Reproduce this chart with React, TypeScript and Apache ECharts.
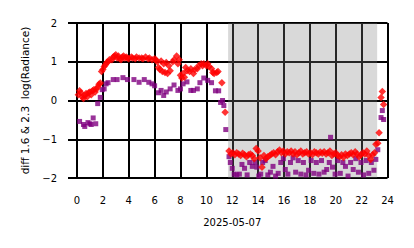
import React, { useEffect, useRef } from "react";
import * as echarts from "echarts";

const xTicks = [0, 2, 4, 6, 8, 10, 12, 14, 16, 18, 20, 22, 24];
const yTicks = [-2, -1, 0, 1, 2];
const xLabel = "2025-05-07";
const yLabel = "diff 1.6 & 2.3  log(Radiance)";
const shadeStart = 11.68;
const shadeEnd = 23.2;

// red diamonds: [hour, value]
const redSeries: [number, number][] = [
  [0.1, 0.15], [0.2, 0.25], [0.3, 0.2], [0.4, 0.1], [0.5, 0.05], [0.6, 0.12], [0.7, 0.18], [0.8, 0.1],
  [0.9, 0.2], [1.0, 0.22], [1.1, 0.15], [1.2, 0.25], [1.3, 0.28], [1.4, 0.22], [1.5, 0.3], [1.6, 0.35],
  [1.7, 0.42], [1.8, 0.45], [1.9, 0.75], [2.0, 0.8], [2.1, 0.88], [2.2, 0.92], [2.3, 0.98], [2.4, 1.0],
  [2.5, 1.05], [2.7, 1.05], [2.8, 1.12], [2.9, 1.15], [3.0, 1.18], [3.1, 1.1], [3.2, 1.15], [3.3, 1.08],
  [3.4, 1.05], [3.5, 1.12], [3.6, 1.15], [3.7, 1.1], [3.8, 1.12], [3.9, 1.1], [4.0, 1.08], [4.2, 1.12],
  [4.3, 1.1], [4.5, 1.08], [4.6, 1.12], [4.8, 1.1], [5.0, 1.1], [5.1, 1.08], [5.3, 1.12], [5.5, 1.08],
  [5.6, 1.1], [5.8, 1.05], [6.0, 1.08], [6.1, 1.05], [6.2, 1.0], [6.3, 0.85], [6.4, 0.8], [6.5, 1.02],
  [6.6, 0.75], [6.7, 0.95], [6.8, 0.72], [6.9, 0.98], [7.0, 0.7], [7.1, 0.9], [7.2, 0.77], [7.4, 1.0],
  [7.5, 1.05], [7.7, 1.15], [7.8, 0.95], [7.9, 1.05], [8.0, 0.65], [8.1, 0.58], [8.2, 0.7], [8.3, 0.6],
  [8.4, 0.85], [8.5, 0.77], [8.7, 0.75], [8.8, 0.82], [9.0, 0.7], [9.1, 0.8], [9.3, 0.82], [9.4, 0.9],
  [9.6, 0.95], [9.7, 0.9], [9.8, 0.95], [10.0, 0.9], [10.1, 0.95], [10.2, 0.88], [10.4, 0.82],
  [10.5, 0.72], [10.6, 0.7], [10.8, 0.72], [10.9, 0.75], [11.2, 0.46], [11.45, -0.3],
  [11.75, -1.3], [11.9, -1.38], [12.05, -1.35], [12.2, -1.4], [12.35, -1.35], [12.5, -1.38], [12.65, -1.42],
  [12.8, -1.36], [12.95, -1.4], [13.1, -1.45], [13.25, -1.4], [13.4, -1.38], [13.55, -1.42], [13.7, -1.5],
  [13.85, -1.24], [14.0, -1.3], [14.15, -1.48], [14.3, -1.72], [14.45, -1.42], [14.6, -1.5], [14.75, -1.45],
  [14.9, -1.42], [15.05, -1.38], [15.2, -1.35], [15.35, -1.4], [15.5, -1.32], [15.65, -1.28], [15.8, -1.35],
  [15.95, -1.3], [16.1, -1.38], [16.25, -1.32], [16.4, -1.35], [16.55, -1.3], [16.7, -1.38], [16.85, -1.32],
  [17.0, -1.4], [17.15, -1.35], [17.3, -1.3], [17.45, -1.38], [17.6, -1.35], [17.75, -1.32], [17.9, -1.38],
  [18.05, -1.35], [18.2, -1.4], [18.35, -1.32], [18.5, -1.35], [18.65, -1.38], [18.8, -1.33], [18.95, -1.36],
  [19.1, -1.32], [19.25, -1.38], [19.4, -1.35], [19.55, -1.3], [19.7, -1.42], [19.85, -1.38], [20.0, -1.35],
  [20.15, -1.42], [20.3, -1.45], [20.45, -1.4], [20.6, -1.47], [20.75, -1.38], [20.9, -1.42], [21.05, -1.38],
  [21.2, -1.35], [21.35, -1.4], [21.5, -1.32], [21.65, -1.38], [21.8, -1.45], [21.95, -1.4], [22.1, -1.35],
  [22.25, -1.38], [22.4, -1.3], [22.55, -1.42], [22.7, -1.52], [22.85, -1.4], [23.0, -1.35], [23.1, -1.13],
  [23.25, -1.1], [23.35, -0.83], [23.5, 0.08], [23.6, 0.23], [23.7, -0.1],
];

// purple squares: [hour, value]
const purpleSeries: [number, number][] = [
  [0.2, -0.54], [0.5, -0.62], [0.6, -0.67], [0.85, -0.57], [1.0, -0.6], [1.1, -0.62], [1.25, -0.45],
  [1.45, -0.6], [1.6, -0.08], [1.8, 0.08], [1.95, 0.28], [2.1, 0.3], [2.25, 0.43], [2.4, 0.46],
  [2.8, 0.54], [3.1, 0.54], [3.55, 0.59], [3.9, 0.54], [4.4, 0.54], [4.8, 0.47], [5.2, 0.54], [5.55, 0.47],
  [5.8, 0.43], [6.0, 0.38], [6.3, 0.2], [6.5, 0.26], [6.7, 0.13], [6.9, 0.22], [7.2, 0.3], [7.5, 0.4],
  [7.8, 0.26], [8.0, 0.3], [8.2, 0.43], [8.5, 0.48], [8.8, 0.26], [9.0, 0.26], [9.3, 0.3], [9.5, 0.46],
  [9.8, 0.58], [10.1, 0.52], [10.4, 0.46], [10.7, 0.25], [10.95, 0.25], [11.1, -0.05], [11.25, 0.0],
  [11.35, -0.13], [11.5, -0.75],
  [11.75, -1.45], [11.85, -1.6], [12.0, -1.75], [12.15, -1.9], [12.35, -1.92], [12.55, -1.9], [12.75, -1.65],
  [12.95, -1.75], [13.15, -1.92], [13.35, -1.6], [13.55, -1.7], [13.75, -1.6], [13.9, -1.72], [14.05, -1.95],
  [14.2, -1.9], [14.35, -1.6], [14.55, -1.55], [14.75, -1.92], [14.95, -1.85], [15.15, -1.7], [15.35, -1.95],
  [15.55, -1.88], [15.75, -1.6], [15.95, -1.5], [16.1, -1.78], [16.3, -1.9], [16.5, -1.6], [16.7, -1.48],
  [16.9, -1.85], [17.1, -1.55], [17.3, -1.9], [17.5, -1.6], [17.7, -1.92], [17.9, -1.8], [18.1, -1.55],
  [18.3, -1.88], [18.5, -1.6], [18.7, -1.9], [18.9, -1.55], [19.1, -1.85], [19.3, -1.78], [19.5, -1.6],
  [19.6, -0.95], [19.75, -1.72], [19.95, -1.9], [20.15, -1.55], [20.35, -1.88], [20.55, -1.6], [20.75, -1.7],
  [20.95, -1.95], [21.15, -1.6], [21.35, -1.78], [21.55, -1.5], [21.75, -1.85], [21.95, -1.6], [22.15, -1.92],
  [22.35, -1.55], [22.55, -1.88], [22.75, -1.6], [22.95, -1.8], [23.1, -1.52], [23.25, -1.27], [23.5, -0.44],
  [23.6, -0.26], [23.7, -0.49],
];

const FONT = "DejaVu Sans";

export default function App() {
  const ref = useRef<HTMLDivElement>(null);
  useEffect(() => {
    if (!ref.current) return;
    const chart = echarts.init(ref.current, null, { renderer: "svg" });
    chart.setOption({
      animation: false,
      backgroundColor: "#ffffff",
      grid: { left: 77, right: 26.5, top: 23, bottom: 70, containLabel: false },
      xAxis: {
        type: "value",
        min: xTicks[0],
        max: xTicks[xTicks.length - 1],
        interval: 2,
        name: xLabel,
        nameLocation: "middle",
        nameGap: 39,
        nameTextStyle: { fontFamily: FONT, fontSize: 10, color: "#000" },
        axisLine: { show: false },
        axisTick: { show: true, length: 8, lineStyle: { color: "#000", width: 2 } },
        axisLabel: { margin: 17, fontFamily: FONT, fontSize: 10, color: "#000" },
        splitLine: { show: true, lineStyle: { color: "#000", width: 2 } },
      },
      yAxis: {
        type: "value",
        min: yTicks[0],
        max: yTicks[yTicks.length - 1],
        interval: 1,
        name: yLabel,
        nameLocation: "middle",
        nameGap: 47,
        nameTextStyle: { fontFamily: FONT, fontSize: 10.5, color: "#000" },
        axisLine: { show: false },
        axisTick: { show: true, length: 9, lineStyle: { color: "#000", width: 2 } },
        axisLabel: {
          margin: 20,
          fontFamily: FONT,
          fontSize: 10,
          color: "#000",
          formatter: (v: number) => (v < 0 ? "\u2212" + Math.abs(v) : String(v)),
        },
        splitLine: { show: true, lineStyle: { color: "#000", width: 2 } },
      },
      series: [
        {
          type: "scatter",
          data: purpleSeries,
          symbol: "rect",
          symbolSize: 5,
          itemStyle: { color: "#800080" },
          z: 3,
        },
        {
          type: "scatter",
          data: redSeries,
          symbol: "diamond",
          symbolSize: 7.5,
          itemStyle: { color: "#ff0000" },
          z: 4,
        },
        {
          type: "line",
          data: [],
          z: 10,
          markArea: {
            silent: true,
            itemStyle: { color: "rgba(128,128,128,0.3)" },
            data: [[{ xAxis: shadeStart }, { xAxis: shadeEnd }]],
          },
        },
      ],
    });
    return () => chart.dispose();
  }, []);
  return (
    <div
      ref={ref}
      style={{ position: "fixed", left: 0, top: 0, width: 414, height: 248 }}
    />
  );
}
